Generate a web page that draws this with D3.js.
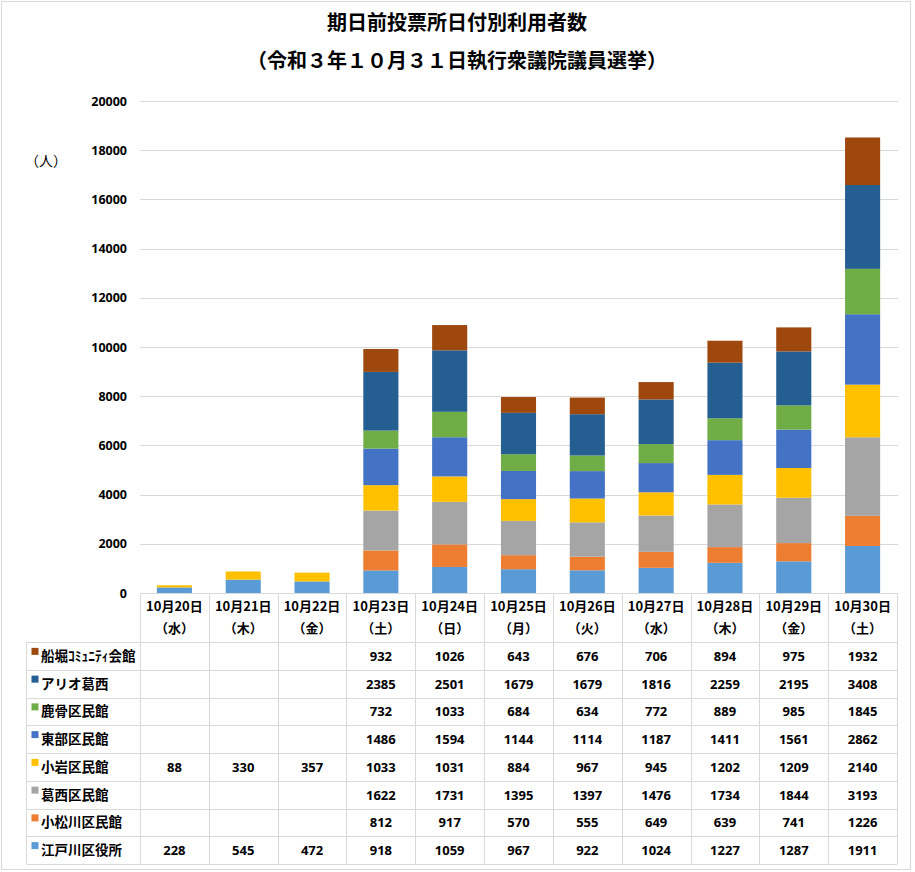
<!DOCTYPE html>
<html><head><meta charset="utf-8">
<script src="https://cdn.jsdelivr.net/npm/d3@7"></script>
<style>
body{margin:0;background:#fff;}
svg{display:block;font-family:"Noto Sans CJK JP","Noto Sans",sans-serif;}
</style></head>
<body><svg id="c" width="915" height="872"></svg>
<script>
const dates = ["10月20日","10月21日","10月22日","10月23日","10月24日","10月25日","10月26日","10月27日","10月28日","10月29日","10月30日"];
const weekdays = ["（水）","（木）","（金）","（土）","（日）","（月）","（火）","（水）","（木）","（金）","（土）"];
// series in stacking order (bottom to top)
const seriesNames = ["江戸川区役所","小松川区民館","葛西区民館","小岩区民館","東部区民館","鹿骨区民館","アリオ葛西","船堀ｺﾐｭﾆﾃｨ会館"];
const edogawa  = [228,545,472,918,1059,967,922,1024,1227,1287,1911];
const komatsugawa = [null,null,null,812,917,570,555,649,639,741,1226];
const kasai    = [null,null,null,1622,1731,1395,1397,1476,1734,1844,3193];
const koiwa    = [88,330,357,1033,1031,884,967,945,1202,1209,2140];
const tobu     = [null,null,null,1486,1594,1144,1114,1187,1411,1561,2862];
const shishibone = [null,null,null,732,1033,684,634,772,889,985,1845];
const ario     = [null,null,null,2385,2501,1679,1679,1816,2259,2195,3408];
const funabori = [null,null,null,932,1026,643,676,706,894,975,1932];
const seriesValues = [edogawa,komatsugawa,kasai,koiwa,tobu,shishibone,ario,funabori];
const colors = ["#5B9BD5","#ED7D31","#A5A5A5","#FFC000","#4472C4","#70AD47","#255E91","#9E480E"];
const yTicks = [0,2000,4000,6000,8000,10000,12000,14000,16000,18000,20000];
const titleLines = ["期日前投票所日付別利用者数","（令和３年１０月３１日執行衆議院議員選挙）"];

(function(){
const svg = d3.select("#c");
// outer frame
svg.append("rect").attr("x",1.5).attr("y",1.5).attr("width",909).attr("height",868)
  .attr("fill","#fff").attr("stroke","#d9d9d9").attr("stroke-width",1);

// title
svg.selectAll("text.title").data(titleLines).join("text")
  .attr("class","title").attr("x",457).attr("y",(d,i)=>30+i*38)
  .attr("text-anchor","middle").attr("font-size",20).attr("font-weight","bold")
  .attr("fill","#000").text(d=>d);

const pLeft=140, pRight=897, pTop=101, pBottom=593;
const x = d3.scaleBand().domain(dates).range([pLeft,pRight]).paddingInner(0.49).paddingOuter(0.245);
const xc = d3.scaleBand().domain(dates).range([pLeft,pRight]).padding(0);
const y = d3.scaleLinear().domain([0,20000]).range([pBottom,pTop]);

// gridlines
svg.append("g").selectAll("line").data(yTicks.filter(d=>d>0)).join("line")
  .attr("x1",pLeft).attr("x2",898).attr("y1",d=>Math.round(y(d))+0.5).attr("y2",d=>Math.round(y(d))+0.5)
  .attr("stroke","#d9d9d9").attr("stroke-width",1);

// y axis labels
const yAxis = d3.axisLeft(y).tickValues(yTicks).tickSize(0).tickPadding(0).tickFormat(d3.format("d"));
const ga = svg.append("g").attr("transform",`translate(127,0)`).call(yAxis);
ga.select(".domain").remove();
ga.selectAll("text").attr("font-size",12.5).attr("font-weight","bold").attr("fill","#000")
  .attr("font-family","'Noto Sans','Liberation Sans',sans-serif");

svg.append("text").attr("x",46).attr("y",166).attr("text-anchor","middle")
  .attr("font-size",14).attr("fill","#000").text("（人）");

// stacked bars
const rows = dates.map((d,i)=>{const o={date:d}; seriesNames.forEach((s,j)=>o[s]=seriesValues[j][i]||0); return o;});
const stack = d3.stack().keys(seriesNames)(rows);
svg.append("g").selectAll("g").data(stack).join("g").attr("fill",(d,i)=>colors[i])
  .selectAll("rect").data(d=>d).join("rect")
  .attr("x",d=>x(d.data.date)).attr("width",x.bandwidth())
  .attr("y",d=>y(d[1])).attr("height",d=>y(d[0])-y(d[1]));

// data table
const tableLeft=26.5, headerTop=593, headerBottom=642, rowH=27.75;
const tableOrder = seriesNames.map((s,i)=>i).reverse(); // top row is last series
const tableBottom = headerBottom + rowH*tableOrder.length;
const g = svg.append("g");
const gridC="#d9d9d9";
g.append("line").attr("x1",pLeft).attr("x2",pRight).attr("y1",headerTop+0.5).attr("y2",headerTop+0.5).attr("stroke",gridC);
d3.range(tableOrder.length+1).forEach(k=>{
  const yy = Math.round(headerBottom+k*rowH)+0.5;
  g.append("line").attr("x1",tableLeft).attr("x2",pRight).attr("y1",yy).attr("y2",yy).attr("stroke",gridC);
});
g.append("line").attr("x1",tableLeft).attr("x2",tableLeft).attr("y1",headerBottom).attr("y2",tableBottom).attr("stroke",gridC);
dates.forEach(d=>{
  const xx = Math.round(xc(d))+0.5;
  g.append("line").attr("x1",xx).attr("x2",xx).attr("y1",headerTop).attr("y2",tableBottom).attr("stroke",gridC);
});
g.append("line").attr("x1",pRight+0.5).attr("x2",pRight+0.5).attr("y1",headerTop).attr("y2",tableBottom).attr("stroke",gridC);

g.selectAll("text.d").data(dates).join("text").attr("class","d")
  .attr("x",d=>xc(d)+xc.bandwidth()/2).attr("y",611).attr("text-anchor","middle")
  .attr("font-size",13).attr("font-weight","bold").attr("fill","#000").text(d=>d);
g.selectAll("text.w").data(weekdays).join("text").attr("class","w")
  .attr("x",(d,i)=>xc(dates[i])+xc.bandwidth()/2).attr("y",633).attr("text-anchor","middle")
  .attr("font-size",13).attr("font-weight","bold").attr("fill","#000").text(d=>d);

tableOrder.forEach((si,r)=>{
  const cy = headerBottom + r*rowH + rowH/2;
  g.append("rect").attr("x",31.5).attr("y",cy-8).attr("width",7).attr("height",7).attr("fill",colors[si]);
  g.append("text").attr("x",41).attr("y",cy+5).attr("font-size",13.5).attr("font-weight","bold")
    .attr("fill","#000").text(seriesNames[si]);
  seriesValues[si].forEach((v,i)=>{
    if(v==null) return;
    g.append("text").attr("x",xc(dates[i])+xc.bandwidth()/2).attr("y",cy+5).attr("text-anchor","middle")
      .attr("font-size",13).attr("font-weight","bold").attr("fill","#000")
      .attr("font-family","'Noto Sans','Liberation Sans',sans-serif").text(v);
  });
});
})();
</script></body></html>
